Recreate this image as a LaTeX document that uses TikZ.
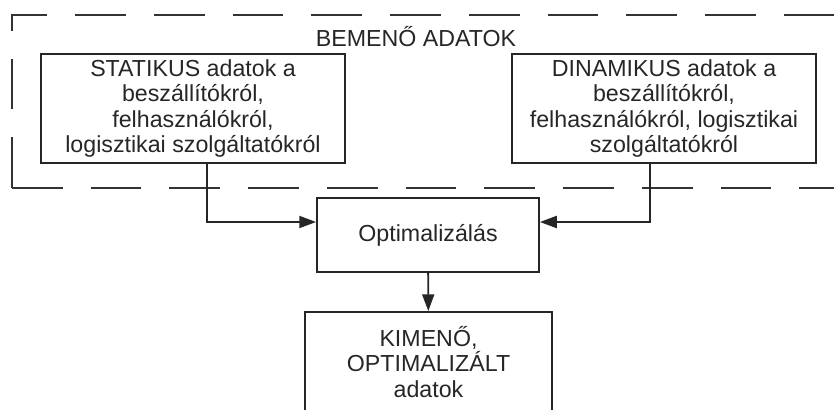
\documentclass[tikz,border=0pt]{standalone}
\usepackage{fontspec}
\setmainfont{Liberation Sans}
\usetikzlibrary{arrows.meta}

\begin{document}
\begin{tikzpicture}[x=0.025cm,y=-0.025cm,
  txt/.style={font=\fontsize{16.5pt}{18.2pt}\selectfont, text=black!85, align=center},
  box/.style={txt, draw=black!85, line width=1.3pt, inner sep=0pt},
  conn/.style={draw=black!85, line width=1.3pt, -{Triangle[length=0.42cm,width=0.3cm]}}]
\useasboundingbox (0,0) rectangle (834,409);
\clip (0,0) rectangle (834,409);
% input data group
\draw[black!80, line width=1.5pt, dash pattern=on 36pt off 20pt] (12,188) -- (12,15) -- (880,15);
\draw[black!80, line width=1.5pt, dash pattern=on 36pt off 20pt] (12,188) -- (880,188);
\node[txt] (bemeno) at (416,37) {BEMENŐ ADATOK};
\node[box, minimum width=7.6cm, minimum height=2.725cm] (statikus) at (193,108.5)
  {STATIKUS adatok a\\beszállítókról,\\felhasználókról,\\logisztikai szolgáltatókról};
\node[box, minimum width=7.6cm, minimum height=2.725cm] (dinamikus) at (664,108.5)
  {DINAMIKUS adatok a\\beszállítókról,\\felhasználókról, logisztikai\\szolgáltatókról};
% optimisation and output
\node[box, fill=white, minimum width=5.55cm, minimum height=1.85cm] (opt) at (428,235) {Optimalizálás};
\node[box, minimum width=6.175cm, minimum height=2.5cm] (kimeno) at (428.5,362)
  {KIMENŐ,\\OPTIMALIZÁLT\\adatok};
\coordinate (inL) at ([yshift=0.325cm]opt.west);
\coordinate (inR) at ([yshift=0.325cm]opt.east);
\draw[conn] ([xshift=0.35cm]statikus.south) |- (inL);
\draw[conn] ([xshift=-0.35cm]dinamikus.south) |- (inR);
\draw[conn] (opt) -- (kimeno);
\end{tikzpicture}
\end{document}
